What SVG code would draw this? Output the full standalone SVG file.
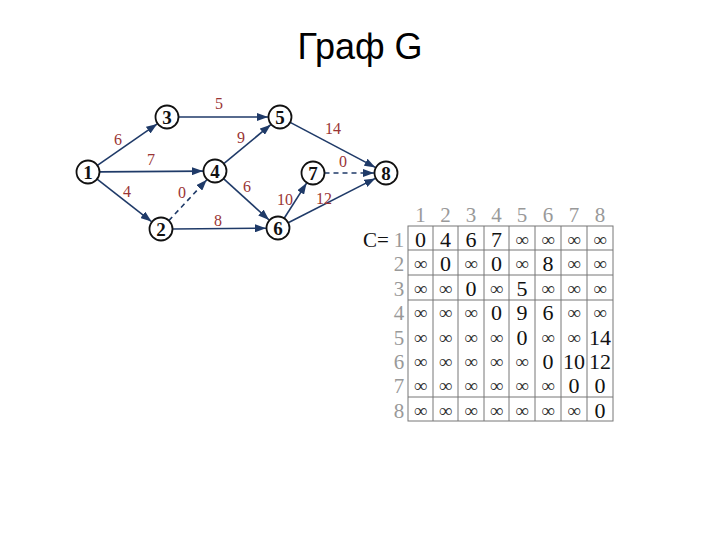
<svg xmlns="http://www.w3.org/2000/svg" width="720" height="540" viewBox="0 0 720 540">
<defs>
<marker id="arr" markerUnits="userSpaceOnUse" markerWidth="11" markerHeight="8" refX="11" refY="4" orient="auto">
<path d="M0,0 L11,4 L0,8 z" fill="#1f3a68"/>
</marker>
<style>
.e{stroke:#1f3a68;stroke-width:1.6;fill:none;marker-end:url(#arr)}
.d{stroke-dasharray:5,4}
.w{font-family:"Liberation Serif",serif;font-size:16px;fill:#9a3535;text-anchor:middle}
.n circle{fill:#fff;stroke:#111;stroke-width:1.8}
.n text{font-family:"Liberation Serif",serif;font-size:19px;font-weight:bold;fill:#111;text-anchor:middle}
.g{font-family:"Liberation Serif",serif;font-size:21px;fill:#999;text-anchor:middle}
.v{font-family:"Liberation Serif",serif;font-size:22px;fill:#111;text-anchor:middle}
.i{font-family:"Liberation Serif",serif;font-size:19px;fill:#333;text-anchor:middle}
.t{stroke:#777;stroke-width:1;fill:none}
</style>
</defs>
<rect width="720" height="540" fill="#fff"/>
<text x="360" y="59" font-family="Liberation Sans,Arial,sans-serif" font-size="36" text-anchor="middle" fill="#000">Граф G</text>

<g id="connectors">
<line class="e" x1="97.4" y1="165.4" x2="157.2" y2="123.9"/>
<line class="e" x1="99.5" y1="171.9" x2="203" y2="171.1"/>
<line class="e" x1="97.1" y1="179.1" x2="151.5" y2="221.6"/>
<line class="e d" x1="168.8" y1="220.6" x2="206.8" y2="179.8"/>
<line class="e" x1="178.5" y1="117" x2="268" y2="117"/>
<line class="e" x1="223.8" y1="163.6" x2="270.8" y2="124.7"/>
<line class="e" x1="223.5" y1="178.7" x2="269.1" y2="220"/>
<line class="e" x1="172.5" y1="229" x2="266" y2="228.2"/>
<line class="e" x1="284.2" y1="218.3" x2="306.6" y2="183.1"/>
<line class="e" x1="288.2" y1="222.8" x2="375.3" y2="178.4"/>
<line class="e" x1="290.2" y1="122.4" x2="375.4" y2="167.4"/>
<line class="e d" x1="324.5" y1="173" x2="374" y2="173"/>
<text class="w" x="118" y="145">6</text>
<text class="w" x="151" y="165">7</text>
<text class="w" x="127" y="197">4</text>
<text class="w" x="182" y="198">0</text>
<text class="w" x="219" y="109">5</text>
<text class="w" x="241" y="143">9</text>
<text class="w" x="247" y="192">6</text>
<text class="w" x="218" y="226">8</text>
<text class="w" x="285" y="205">10</text>
<text class="w" x="324" y="204">12</text>
<text class="w" x="333" y="134">14</text>
<text class="w" x="343" y="167">0</text>
</g>

<g id="node1" class="n"><circle cx="88" cy="172" r="11.5"/><text x="88" y="178.5">1</text></g>
<g id="node2" class="n"><circle cx="161" cy="229" r="11.5"/><text x="161" y="235.5">2</text></g>
<g id="node3" class="n"><circle cx="167" cy="117" r="11.5"/><text x="167" y="123.5">3</text></g>
<g id="node4" class="n"><circle cx="215" cy="171" r="11.5"/><text x="215" y="177.5">4</text></g>
<g id="node5" class="n"><circle cx="280" cy="117" r="11.5"/><text x="280" y="123.5">5</text></g>
<g id="node6" class="n"><circle cx="278" cy="228" r="11.5"/><text x="278" y="234.5">6</text></g>
<g id="node7" class="n"><circle cx="313" cy="173" r="11.5"/><text x="313" y="179.5">7</text></g>
<g id="node8" class="n"><circle cx="386" cy="173" r="11.5"/><text x="386" y="179.5">8</text></g>

<g id="matrix">
<rect class="t" x="408" y="226" width="205" height="195"/>
<path class="t" d="M433,226V421M458,226V421M484,226V421M509,226V421M535,226V421M561,226V421M587,226V421M408,250H613M408,275H613M408,300H613M408,397H613"/>
<text x="376" y="247" font-family="Liberation Serif,serif" font-size="21" text-anchor="middle" fill="#111">C=</text>
<g class="g">
<text x="420.5" y="222">1</text><text x="445.5" y="222">2</text><text x="471" y="222">3</text><text x="496.5" y="222">4</text><text x="522" y="222">5</text><text x="548" y="222">6</text><text x="574" y="222">7</text><text x="600" y="222">8</text>
<text x="399" y="247">1</text><text x="399" y="271">2</text><text x="399" y="296">3</text><text x="399" y="320">4</text><text x="399" y="345">5</text><text x="399" y="369">6</text><text x="399" y="393">7</text><text x="399" y="418">8</text>
</g>
<g class="v">
<text x="420.5" y="247">0</text><text x="445.5" y="247">4</text><text x="471" y="247">6</text><text x="496.5" y="247">7</text>
<text x="445.5" y="271">0</text><text x="496.5" y="271">0</text><text x="548" y="271">8</text>
<text x="471" y="296">0</text><text x="522" y="296">5</text>
<text x="496.5" y="320">0</text><text x="522" y="320">9</text><text x="548" y="320">6</text>
<text x="522" y="345">0</text><text x="600" y="345">14</text>
<text x="548" y="369">0</text><text x="574" y="369">10</text><text x="600" y="369">12</text>
<text x="574" y="393">0</text><text x="600" y="393">0</text>
<text x="600" y="418">0</text>
</g>
<g class="i">
<text x="522" y="246">∞</text><text x="548" y="246">∞</text><text x="574" y="246">∞</text><text x="600" y="246">∞</text>
<text x="420.5" y="270">∞</text><text x="471" y="270">∞</text><text x="522" y="270">∞</text><text x="574" y="270">∞</text><text x="600" y="270">∞</text>
<text x="420.5" y="295">∞</text><text x="445.5" y="295">∞</text><text x="496.5" y="295">∞</text><text x="548" y="295">∞</text><text x="574" y="295">∞</text><text x="600" y="295">∞</text>
<text x="420.5" y="319">∞</text><text x="445.5" y="319">∞</text><text x="471" y="319">∞</text><text x="574" y="319">∞</text><text x="600" y="319">∞</text>
<text x="420.5" y="344">∞</text><text x="445.5" y="344">∞</text><text x="471" y="344">∞</text><text x="496.5" y="344">∞</text><text x="548" y="344">∞</text><text x="574" y="344">∞</text>
<text x="420.5" y="368">∞</text><text x="445.5" y="368">∞</text><text x="471" y="368">∞</text><text x="496.5" y="368">∞</text><text x="522" y="368">∞</text>
<text x="420.5" y="392">∞</text><text x="445.5" y="392">∞</text><text x="471" y="392">∞</text><text x="496.5" y="392">∞</text><text x="522" y="392">∞</text><text x="548" y="392">∞</text>
<text x="420.5" y="417">∞</text><text x="445.5" y="417">∞</text><text x="471" y="417">∞</text><text x="496.5" y="417">∞</text><text x="522" y="417">∞</text><text x="548" y="417">∞</text><text x="574" y="417">∞</text>
</g>
</g>
</svg>
